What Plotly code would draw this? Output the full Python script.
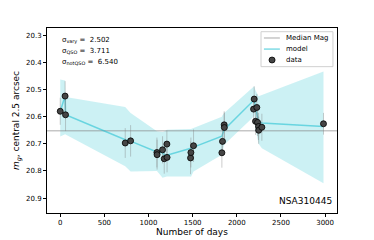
import plotly.graph_objects as go

# data points
days = [0, 55, 60, 736, 797, 1095, 1097, 1159, 1178, 1208, 1210, 1476, 1480, 1510,
        1831, 1838, 1857, 1859, 2190, 2197, 2212, 2227, 2235, 2246, 2248, 2284, 2982]
mags = [20.580, 20.524, 20.593, 20.697, 20.689, 20.732, 20.740, 20.722, 20.755, 20.701,
        20.750, 20.752, 20.732, 20.707, 20.733, 20.691, 20.630, 20.640, 20.572, 20.535,
        20.617, 20.566, 20.621, 20.636, 20.650, 20.639, 20.626]
errs = [0.050, 0.055, 0.060, 0.055, 0.058, 0.055, 0.055, 0.050, 0.055, 0.050,
        0.055, 0.060, 0.055, 0.060, 0.055, 0.050, 0.050, 0.055, 0.045, 0.047,
        0.050, 0.050, 0.050, 0.050, 0.050, 0.050, 0.040]

# model (GP) evaluated at sorted times
model_t = [0, 55, 60, 736, 797, 1095, 1159, 1178, 1208, 1476, 1480, 1510, 1831, 1838,
           1857, 2190, 2197, 2208, 2227, 2235, 2246, 2284, 2982]
model_mean = [20.580, 20.524, 20.593, 20.685, 20.690, 20.730, 20.733, 20.740, 20.742,
              20.718, 20.716, 20.712, 20.672, 20.665, 20.648, 20.540, 20.531, 20.560,
              20.590, 20.605, 20.618, 20.623, 20.636]
model_hi = [20.463, 20.467, 20.527, 20.564, 20.586, 20.654, 20.656, 20.655, 20.648,
            20.646, 20.645, 20.642, 20.600, 20.595, 20.586, 20.490, 20.488, 20.500,
            20.512, 20.518, 20.525, 20.520, 20.433]
model_lo = [20.673, 20.665, 20.667, 20.783, 20.802, 20.800, 20.825, 20.822, 20.820,
            20.820, 20.822, 20.802, 20.740, 20.725, 20.703, 20.600, 20.595, 20.640,
            20.666, 20.685, 20.700, 20.716, 20.845]

median_mag = 20.652
x_range = [-150, 3135]
y_range = [20.955, 20.273]
x_ticks = [0, 500, 1000, 1500, 2000, 2500, 3000]
y_ticks = [20.3, 20.4, 20.5, 20.6, 20.7, 20.8, 20.9]
sigma_labels = ["σ<sub>vary</sub> = &nbsp;2.502", "σ<sub>QSO</sub> = &nbsp;3.711",
                "σ<sub>notQSO</sub> = &nbsp;6.540"]
legend_labels = ["Median Mag", "model", "data"]
object_name = "NSA310445"

font = "DejaVu Sans"
band_color = "rgba(23,190,207,0.22)"
model_color = "rgba(23,190,207,0.55)"
median_color = "rgba(128,128,128,0.45)"
point_color = "#454545"

fig = go.Figure()

# band
fig.add_trace(go.Scatter(x=model_t + model_t[::-1], y=model_hi + model_lo[::-1],
                         fill="toself", fillcolor=band_color,
                         line=dict(width=0), mode="lines", showlegend=False,
                         hoverinfo="skip"))
# median
fig.add_trace(go.Scatter(x=x_range, y=[median_mag, median_mag], mode="lines",
                         line=dict(color=median_color, width=1.5),
                         name=legend_labels[0], showlegend=False))
# model
fig.add_trace(go.Scatter(x=model_t, y=model_mean, mode="lines",
                         line=dict(color=model_color, width=1.5),
                         name=legend_labels[1], showlegend=False))
# data
fig.add_trace(go.Scatter(x=days, y=mags, mode="markers",
                         error_y=dict(type="data", array=errs, color="rgba(128,128,128,0.4)",
                                      thickness=1, width=0),
                         marker=dict(size=6, color=point_color, line=dict(color="black", width=0.8)),
                         name=legend_labels[2], showlegend=False))

for i, s in enumerate(sigma_labels):
    fig.add_annotation(x=0.045, y=0.935 - i * 0.06, xref="paper", yref="paper",
                       text=s, showarrow=False, xanchor="left", yanchor="middle",
                       font=dict(family=font, size=7, color="black"))

fig.add_annotation(x=0.99, y=0.025, xref="paper", yref="paper", text=object_name,
                   showarrow=False, xanchor="right", yanchor="bottom",
                   font=dict(family=font, size=9, color="black"))

# compact legend box (matplotlib style)
fig.add_shape(type="rect", xref="paper", yref="paper", x0=0.738, x1=0.986, y0=0.791, y1=0.980,
              line=dict(color="#d0d0d0", width=1), fillcolor="rgba(255,255,255,0.85)")
leg_y = [0.946, 0.886, 0.827]
fig.add_shape(type="line", xref="paper", yref="paper", x0=0.748, x1=0.803, y0=leg_y[0], y1=leg_y[0],
              line=dict(color=median_color, width=1.5))
fig.add_shape(type="line", xref="paper", yref="paper", x0=0.748, x1=0.803, y0=leg_y[1], y1=leg_y[1],
              line=dict(color=model_color, width=1.5))
fig.add_shape(type="circle", xref="paper", yref="paper", x0=0.7655, x1=0.7865,
              y0=leg_y[2] - 0.016, y1=leg_y[2] + 0.016,
              line=dict(color="black", width=0.8), fillcolor=point_color)
for yv, lab in zip(leg_y, legend_labels):
    fig.add_annotation(x=0.818, y=yv, xref="paper", yref="paper", text=lab, showarrow=False,
                       xanchor="left", yanchor="middle",
                       font=dict(family=font, size=7, color="black"))

axis_common = dict(showline=True, linecolor="black", linewidth=1, mirror=True,
                   ticks="outside", ticklen=3, tickcolor="black", showgrid=False,
                   zeroline=False, automargin=False,
                   tickfont=dict(family=font, size=7, color="black"))

fig.update_layout(
    width=374, height=240,
    margin=dict(l=47, r=37, t=28, b=27),
    paper_bgcolor="white", plot_bgcolor="white",
    font=dict(family=font, color="black", size=7),
    xaxis=dict(range=x_range, tickvals=x_ticks, ticktext=[str(v) for v in x_ticks],
               title=dict(text="Number of days", font=dict(family=font, size=9, color="black"),
                          standoff=2),
               **axis_common),
    yaxis=dict(range=y_range, tickvals=y_ticks, ticktext=[f"{v:.1f}" for v in y_ticks],
               title=dict(text="<i>m<sub>g</sub></i>, central 2.5 arcsec",
                          font=dict(family=font, size=9, color="black"), standoff=4),
               **axis_common),
    showlegend=False,
)

fig.write_html("out.html", config={"displayModeBar": False},
               post_script="document.body.style.margin='0';document.body.style.overflow='hidden';")
